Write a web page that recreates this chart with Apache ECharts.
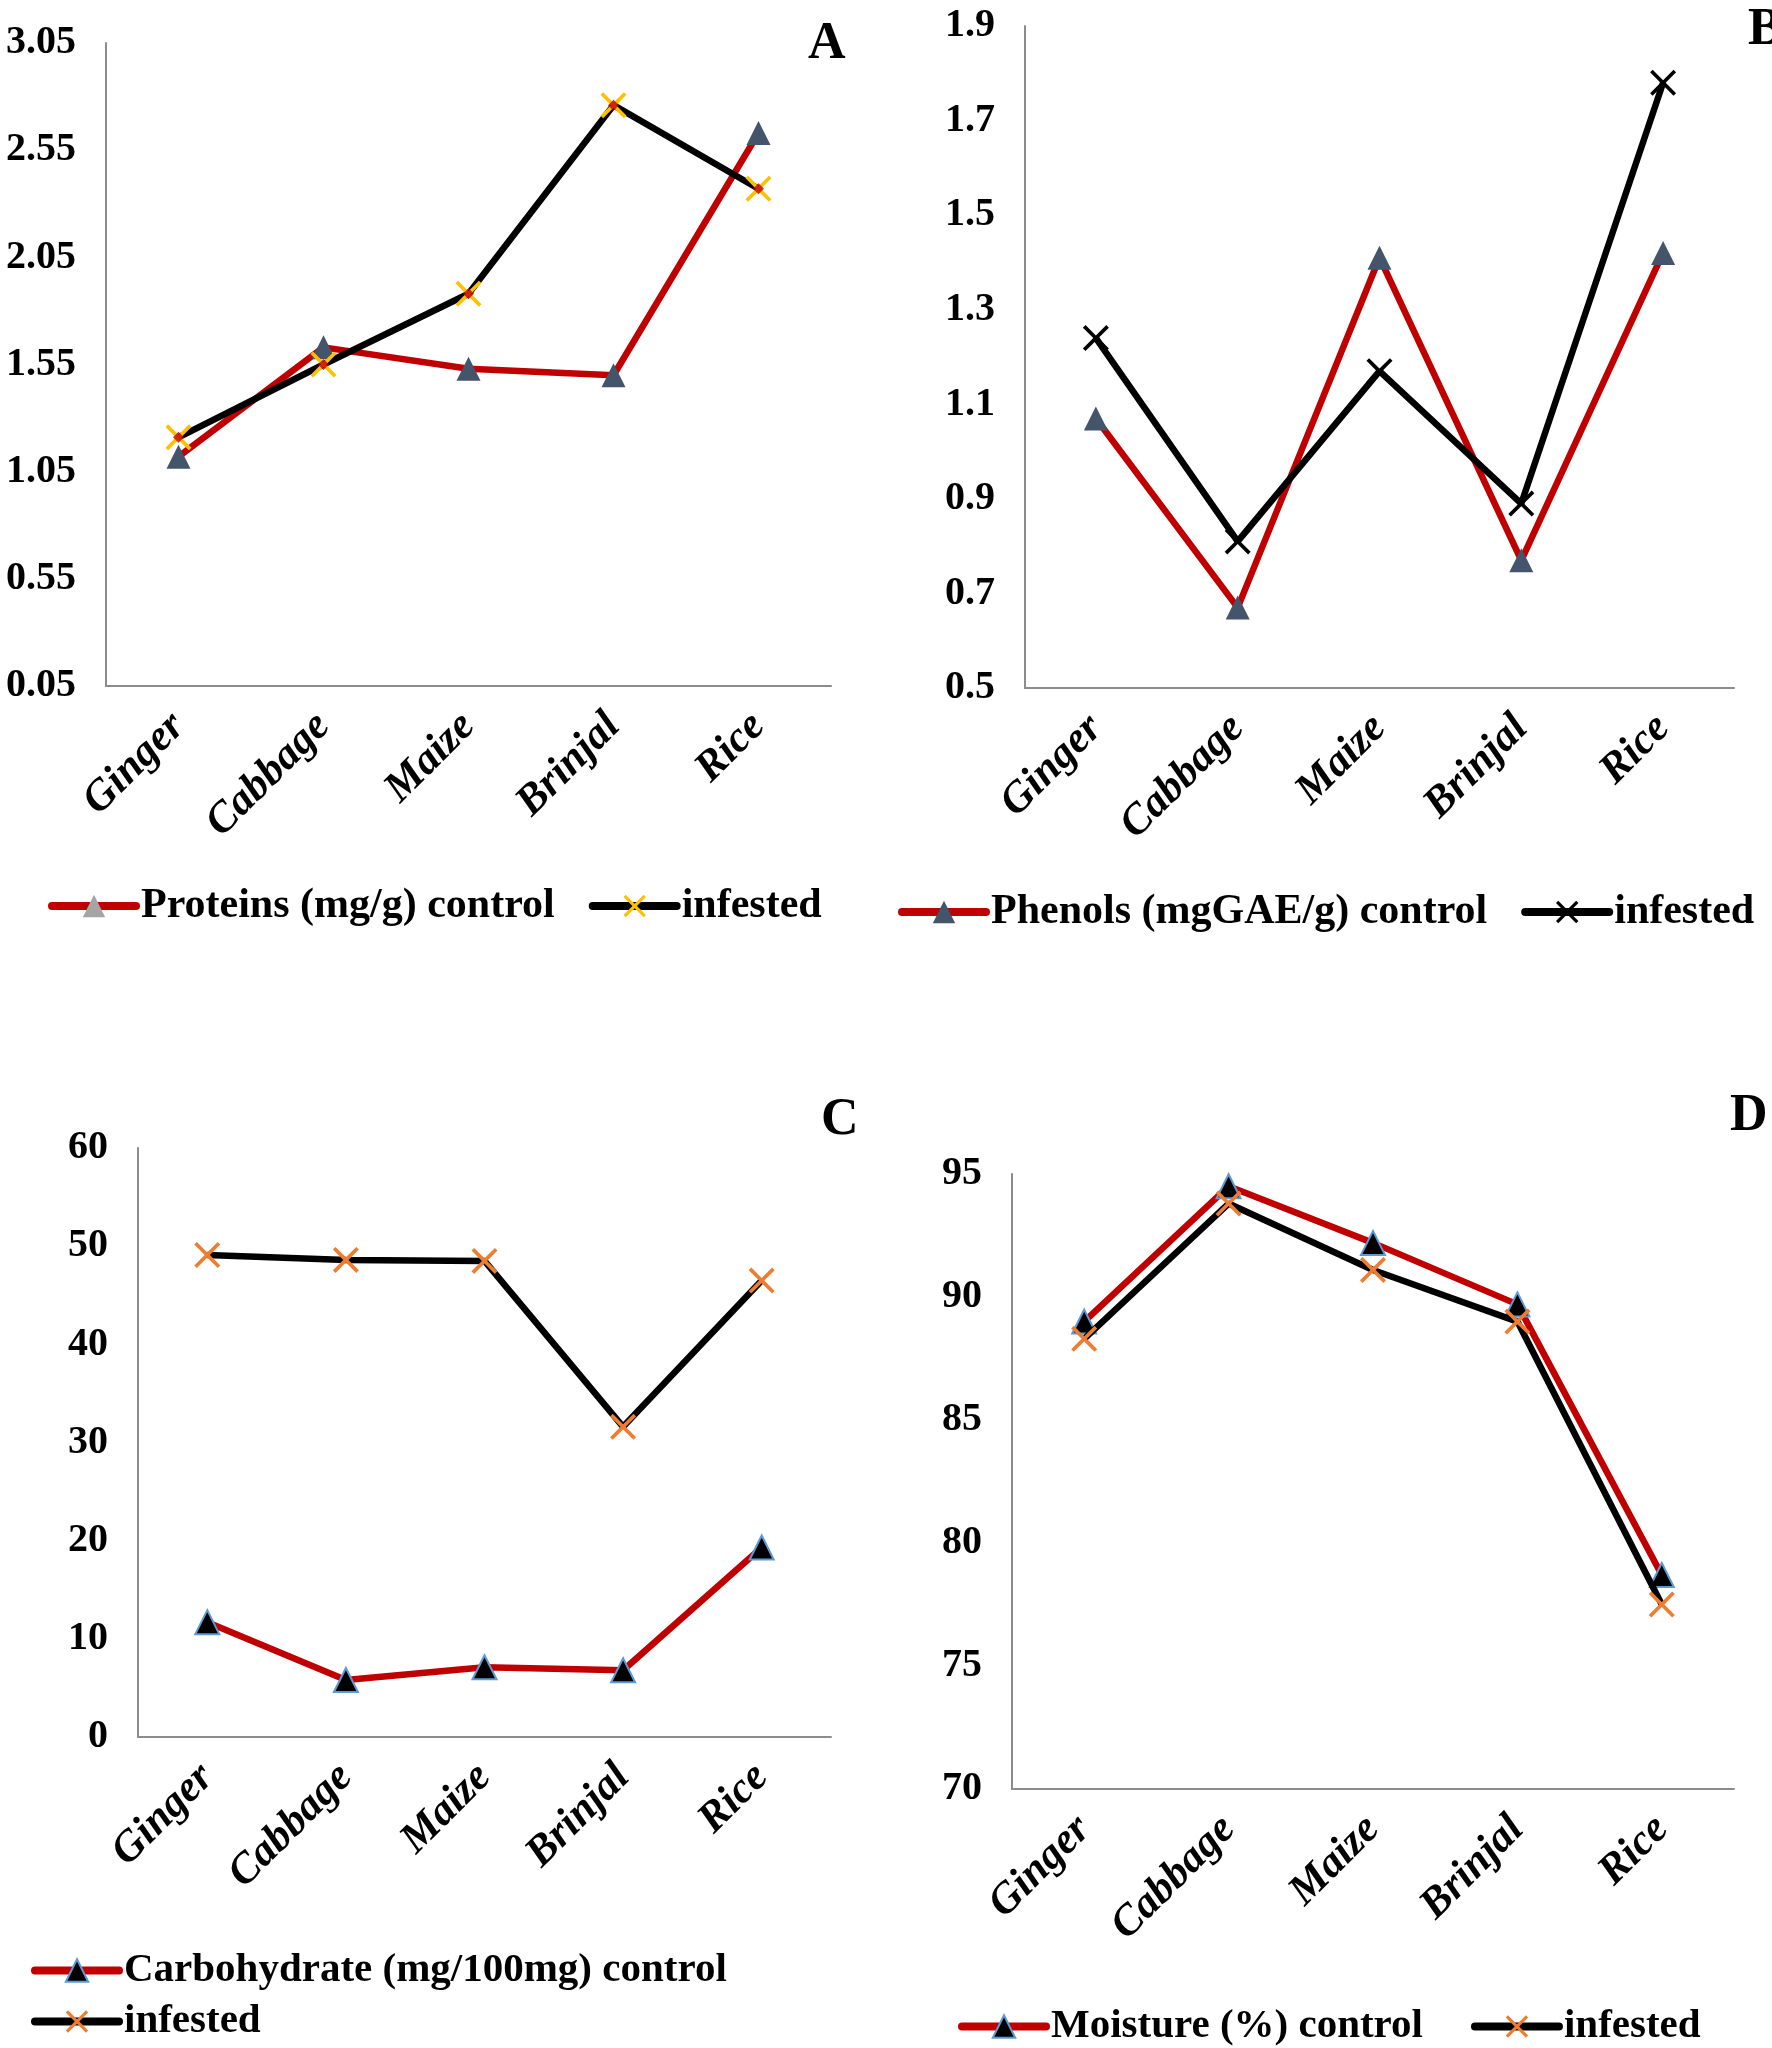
<!DOCTYPE html>
<html>
<head>
<meta charset="utf-8">
<script src="https://cdn.jsdelivr.net/npm/echarts@6/dist/echarts.min.js"></script>
<style>
html,body{margin:0;padding:0;background:#fff;}
#chart{width:1772px;height:2048px;}
</style>
</head>
<body>
<div id="chart"></div>
<script>
// ---- data ----
const categories = ['Ginger', 'Cabbage', 'Maize', 'Brinjal', 'Rice'];

const proteinControl = [1.12, 1.63, 1.53, 1.50, 2.63];
const proteinInfested = [1.21, 1.55, 1.88, 2.76, 2.37];

const phenolControl = [1.07, 0.67, 1.41, 0.77, 1.42];
const phenolInfested = [1.24, 0.81, 1.17, 0.89, 1.78];

const carbControl = [11.7, 5.8, 7.1, 6.8, 19.3];
const carbInfested = [49.1, 48.6, 48.5, 31.6, 46.5];

const moistControl = [89.0, 94.5, 92.2, 89.7, 78.7];
const moistInfested = [88.3, 93.8, 91.1, 89.0, 77.5];

const ticksA = [0.05, 0.55, 1.05, 1.55, 2.05, 2.55, 3.05];
const ticksB = [0.5, 0.7, 0.9, 1.1, 1.3, 1.5, 1.7, 1.9];
const ticksC = [0, 10, 20, 30, 40, 50, 60];
const ticksD = [70, 75, 80, 85, 90, 95];

const controlLabels = ['Proteins (mg/g) control', 'Phenols (mgGAE/g) control', 'Carbohydrate (mg/100mg) control', 'Moisture (%) control'];
const infestedLabel = 'infested';
const panelLetters = ['A', 'B', 'C', 'D'];

// ---- styling / layout ----
const FONT = '"Liberation Serif", "Times New Roman", serif';
const RED = '#C00000';
const SLATE = '#44546A';
const XPATH = 'path://M0,1 L1,0 L5,4 L9,0 L10,1 L6,5 L10,9 L9,10 L5,6 L1,10 L0,9 L4,5 Z';

const panels = [
  { grid: {left: 106, top: 43, width: 725, height: 643}, ticks: ticksA, dec: 2,
    control: proteinControl, infested: proteinInfested,
    ctrlMarker: {symbol: 'triangle', color: SLATE, border: null},
    infMarker: {color: '#FFC000'}, legendCtrlColor: '#A5A5A5',
    legend: {left: 43, top: 880, orient: 'horizontal', font: 42, gap: 34},
    title: {left: 803, top: 14} },
  { grid: {left: 1025, top: 26, width: 709, height: 662}, ticks: ticksB, dec: 1,
    control: phenolControl, infested: phenolInfested,
    ctrlMarker: {symbol: 'triangle', color: SLATE, border: null},
    infMarker: {color: '#000000'}, legendCtrlColor: SLATE,
    legend: {left: 893, top: 886, orient: 'horizontal', font: 42, gap: 34},
    title: {left: 1743, top: 0} },
  { grid: {left: 138, top: 1148, width: 693, height: 589}, ticks: ticksC, dec: 0,
    control: carbControl, infested: carbInfested,
    ctrlMarker: {symbol: 'triangle', color: '#000000', border: '#5B9BD5'},
    infMarker: {color: '#ED7D31'}, legendCtrlColor: '#000000',
    legend: {left: 26, top: 1945, orient: 'vertical', font: 41, gap: 10},
    title: {left: 816, top: 1090} },
  { grid: {left: 1012, top: 1174, width: 722, height: 615}, ticks: ticksD, dec: 0,
    control: moistControl, infested: moistInfested,
    ctrlMarker: {symbol: 'triangle', color: '#000000', border: '#5B9BD5'},
    infMarker: {color: '#ED7D31'}, legendCtrlColor: '#000000',
    legend: {left: 953, top: 2001, orient: 'horizontal', font: 41, gap: 48},
    title: {left: 1725, top: 1086} }
];

const nameMap = {};
const option = {
  backgroundColor: '#ffffff',
  animation: false,
  textStyle: {fontFamily: FONT},
  grid: [], xAxis: [], yAxis: [], series: [], legend: [], title: []
};

panels.forEach((p, i) => {
  const cName = 'c' + i, iName = 'i' + i;
  nameMap[cName] = controlLabels[i];
  nameMap[iName] = infestedLabel;
  option.grid.push(Object.assign({containLabel: false}, p.grid));
  option.xAxis.push({
    type: 'category', gridIndex: i, data: categories, boundaryGap: true,
    axisLine: {show: true, lineStyle: {color: '#8C8C8C', width: 2}},
    axisTick: {show: false},
    splitLine: {show: false},
    axisLabel: {interval: 0, rotate: 45, margin: 34, color: '#000',
      fontFamily: FONT, fontWeight: 'bold', fontStyle: 'italic', fontSize: 43}
  });
  option.yAxis.push({
    type: 'value', gridIndex: i,
    min: p.ticks[0], max: p.ticks[p.ticks.length - 1],
    axisLine: {show: true, lineStyle: {color: '#8C8C8C', width: 2}},
    axisTick: {show: false},
    splitLine: {show: false},
    axisLabel: {customValues: p.ticks, margin: 30, color: '#000',
      fontFamily: FONT, fontWeight: 'bold', fontSize: 40,
      formatter: v => Number(v).toFixed(p.dec)}
  });
  option.series.push({
    name: cName, type: 'line', xAxisIndex: i, yAxisIndex: i, data: p.control,
    symbol: p.ctrlMarker.symbol, symbolSize: 24, z: 3,
    lineStyle: {color: RED, width: 6.5},
    itemStyle: {color: p.ctrlMarker.color,
      borderColor: p.ctrlMarker.border || p.ctrlMarker.color,
      borderWidth: p.ctrlMarker.border ? 2 : 0}
  });
  option.series.push({
    name: iName, type: 'line', xAxisIndex: i, yAxisIndex: i, data: p.infested,
    symbol: XPATH, symbolSize: 26, z: 4,
    lineStyle: {color: '#000000', width: 6.5},
    itemStyle: {color: p.infMarker.color, borderWidth: 0}
  });
  if (i === 0) {
    option.series.push({
      name: 'diamondA', type: 'scatter', xAxisIndex: i, yAxisIndex: i, data: p.infested,
      symbol: 'diamond', symbolSize: 11, z: 5, silent: true,
      itemStyle: {color: RED}
    });
  }
  option.legend.push({
    data: [
      {name: cName, itemStyle: {color: p.legendCtrlColor}, lineStyle: {color: RED, width: 8, cap: 'round'}},
      {name: iName, lineStyle: {color: '#000', width: 8, cap: 'round'}}
    ],
    left: p.legend.left, top: p.legend.top, orient: p.legend.orient,
    itemWidth: 84, itemHeight: 28, itemGap: p.legend.gap,
    selectedMode: false,
    formatter: n => nameMap[n],
    textStyle: {color: '#000', fontFamily: FONT, fontWeight: 'bold', fontSize: p.legend.font, padding: [0, 0, 0, 0]}
  });
  option.title.push({
    text: panelLetters[i], left: p.title.left, top: p.title.top,
    textStyle: {color: '#000', fontFamily: FONT, fontWeight: 'bold', fontSize: 52}
  });
});

const chart = echarts.init(document.getElementById('chart'), null, {renderer: 'canvas'});
chart.setOption(option);
</script>
</body>
</html>
